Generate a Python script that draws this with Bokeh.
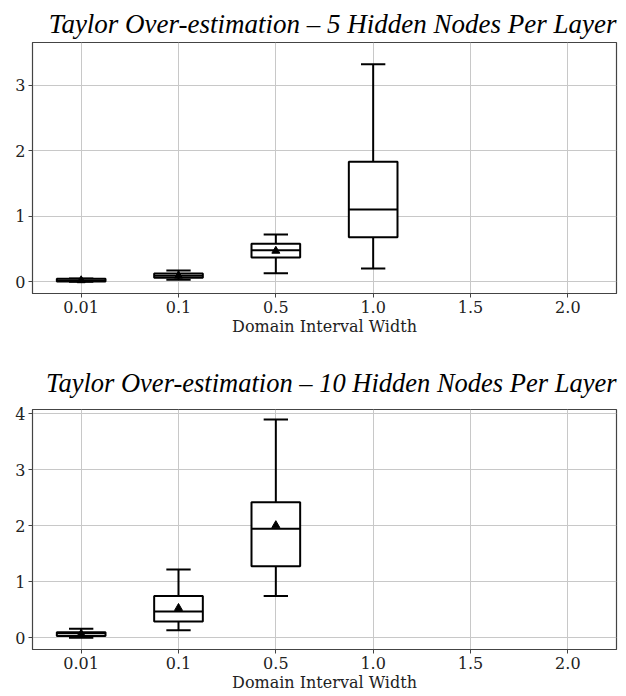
from bokeh.plotting import figure
from bokeh.layouts import column
from bokeh.models import Range1d, FixedTicker
from bokeh.embed import file_html
from bokeh.resources import INLINE
import math

# ---- data ----
cats = ["0.01", "0.1", "0.5", "1.0", "1.5", "2.0"]

t5_cats = ["0.01", "0.1", "0.5", "1.0"]
t5_whislo = [0.0, 0.03, 0.13, 0.20]
t5_q1 = [0.005, 0.06, 0.37, 0.68]
t5_med = [0.02, 0.09, 0.48, 1.10]
t5_q3 = [0.045, 0.125, 0.58, 1.83]
t5_whishi = [0.05, 0.17, 0.72, 3.32]
t5_mean = [0.02, 0.09, 0.47, float("nan")]

t10_cats = ["0.01", "0.1", "0.5"]
t10_whislo = [0.0, 0.135, 0.745]
t10_q1 = [0.03, 0.29, 1.28]
t10_med = [0.08, 0.47, 1.95]
t10_q3 = [0.10, 0.745, 2.42]
t10_whishi = [0.16, 1.22, 3.90]
t10_mean = [0.07, 0.53, 2.01]

title5 = "Taylor Over-estimation \u2013 5 Hidden Nodes Per Layer"
title10 = "Taylor Over-estimation \u2013 10 Hidden Nodes Per Layer"
xlabel = "Domain Interval Width"
yticks5 = [0, 1, 2, 3]
yticks10 = [0, 1, 2, 3, 4]

AX_FONT = "DejaVu Serif"


def make_plot(title, xc, wlo, q1, med, q3, whi, mean, yr, yticks, h, top_border, standoff, tsize):
    p = figure(x_range=cats, y_range=Range1d(*yr), width=624, height=h,
               output_backend="svg", toolbar_location=None, title=title,
               min_border_left=32, min_border_right=8, min_border_top=top_border,
               min_border_bottom=10)
    p.title.text_font = "Liberation Serif"
    p.title.text_font_style = "italic"
    p.title.text_font_size = tsize
    p.title.text_color = "black"
    p.title.align = "right"
    p.title.standoff = standoff
    p.x_range.range_padding = 0

    lw = 2
    # whiskers
    p.segment(x0=xc, y0=q3, x1=xc, y1=whi, line_color="black", line_width=lw)
    p.segment(x0=xc, y0=q1, x1=xc, y1=wlo, line_color="black", line_width=lw)
    # caps
    p.vbar(x=xc, top=whi, bottom=whi, width=0.25, fill_color=None, line_color="black", line_width=lw)
    p.vbar(x=xc, top=wlo, bottom=wlo, width=0.25, fill_color=None, line_color="black", line_width=lw)
    # boxes
    p.vbar(x=xc, top=q3, bottom=q1, width=0.5, fill_color="white", line_color="black", line_width=lw)
    # medians
    p.vbar(x=xc, top=med, bottom=med, width=0.5, fill_color=None, line_color="black", line_width=lw)
    # means
    mx = [c for c, m in zip(xc, mean) if not math.isnan(m)]
    my = [m for m in mean if not math.isnan(m)]
    p.scatter(x=mx, y=my, marker="triangle", size=8, fill_color="black", line_color="black")

    p.yaxis.ticker = FixedTicker(ticks=yticks)
    p.xaxis.axis_label = xlabel
    for ax in (p.xaxis, p.yaxis):
        ax.major_label_text_font = AX_FONT
        ax.major_label_text_font_size = "16px"
        ax.major_label_text_color = "#222222"
        ax.axis_label_text_font = AX_FONT
        ax.axis_label_text_font_size = "16px"
        ax.axis_label_text_font_style = "normal"
        ax.axis_label_text_color = "#222222"
        ax.axis_line_color = "#444444"
        ax.major_tick_line_color = "#444444"
        ax.major_tick_out = 4
        ax.major_tick_in = 0
        ax.minor_tick_line_color = None
        ax.major_label_standoff = 3
        ax.axis_label_standoff = 1
    p.outline_line_color = "#444444"
    p.outline_line_width = 1.2
    p.xgrid.grid_line_color = "#c8c8c8"
    p.ygrid.grid_line_color = "#c8c8c8"
    p.xgrid.grid_line_width = 1
    p.ygrid.grid_line_width = 1
    p.background_fill_color = "white"
    p.border_fill_color = "white"
    return p


p1 = make_plot(title5, t5_cats, t5_whislo, t5_q1, t5_med, t5_q3, t5_whishi, t5_mean,
               (-0.18, 3.65), yticks5, 338, 42, 8, "27px")
p2 = make_plot(title10, t10_cats, t10_whislo, t10_q1, t10_med, t10_q3, t10_whishi, t10_mean,
               (-0.21, 4.08), yticks10, 356, 71, 24, "26.5px")

layout = column(p1, p2, spacing=0)
open("out.html", "w").write(file_html(layout, INLINE))
